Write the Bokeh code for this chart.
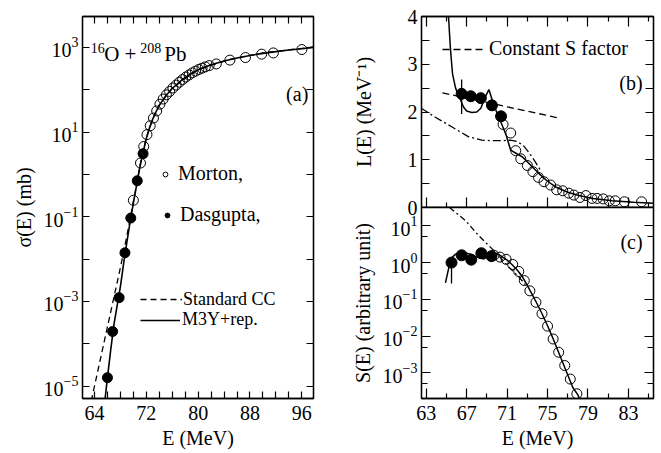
from bokeh.plotting import figure
from bokeh.layouts import row, column
from bokeh.models import (FixedTicker, LinearAxis, LogAxis, Legend, LegendItem,
                          Label, Range1d, CustomJSTickFormatter)
from bokeh.embed import file_html
from bokeh.resources import INLINE

FONT = "Liberation Serif"

# ---------------- panel (a): fusion cross section ----------------
morton_a_E = [70.0, 71.1, 71.6, 72.1, 72.6, 73.1, 73.6, 74.1, 74.6, 75.1, 75.6, 76.1,
              76.6, 77.1, 77.6, 78.1, 78.6, 79.1, 79.6, 80.1, 80.6, 81.1, 81.7, 82.8,
              84.9, 87.3, 89.8, 91.6, 96.0]
morton_a_sig = [0.245, 1.86, 4.57, 8.71, 14.1, 21.4, 31.6, 45.7, 60.3, 75.9, 91.2, 110,
                129, 151, 174, 200, 224, 251, 275, 302, 324, 347, 372, 407,
                501, 575, 692, 741, 891]
dasg_a_E = [66.0, 66.8, 67.8, 68.7, 69.6, 70.6, 71.5]
dasg_a_sig = [1.58e-5, 1.95e-4, 1.23e-3, 0.0141, 0.0933, 0.708, 3.09]
m3y_a_E = [65.6, 66.0, 66.5, 67.0, 67.5, 68.0, 68.5, 69.0, 69.5, 70.0, 70.5, 71.0, 71.5,
           72.0, 72.5, 73.0, 73.5, 74.0, 75.0, 76.0, 77.0, 78.0, 79.0, 80.0, 82.0, 84.0,
           86.0, 88.0, 90.0, 92.0, 94.0, 96.0, 97.8]
m3y_a_sig = [4.47e-6, 1.58e-5, 7.08e-5, 2.82e-4, 7.94e-4, 2.24e-3, 7.94e-3, 0.0251,
             0.0759, 0.209, 0.562, 1.48, 3.31, 7.08, 12.6, 20.4, 30.2, 42.7, 72.4, 107,
             148, 195, 245, 295, 389, 479, 562, 646, 724, 794, 871, 933, 1000]
std_a_E = [63.5, 64.0, 65.0, 66.0, 67.0, 68.0, 69.0, 70.0, 70.5, 71.0, 72.0, 73.0, 74.0,
           76.0, 80.0, 85.0, 90.0, 97.8]
std_a_sig = [4.47e-6, 1e-5, 5.01e-5, 2.51e-4, 1.26e-3, 6.31e-3, 0.0355, 0.229, 0.562,
             1.58, 7.24, 20.9, 43.7, 110, 302, 525, 741, 1023]

# ---------------- panel (b): logarithmic derivative ----------------
morton_b_E = [70.6, 71.35, 71.85, 72.35, 73.0, 73.55, 74.1, 74.65, 75.3, 75.9, 76.5,
              77.1, 77.6, 78.2, 78.8, 79.4, 79.9, 80.5, 81.1, 81.7, 82.6, 84.3]
morton_b_L = [1.74, 1.56, 1.19, 1.02, 0.88, 0.75, 0.63, 0.54, 0.47, 0.37, 0.35,
              0.30, 0.26, 0.21, 0.25, 0.19, 0.19, 0.18, 0.14, 0.14, 0.12, 0.12]
dasg_b_E = [66.5, 67.4, 68.4, 69.5, 70.4]
dasg_b_L = [2.38, 2.33, 2.29, 2.14, 1.91]
dasg_b_err_lo = [1.96]
dasg_b_err_hi = [2.68]
m3y_b_E = [65.2, 65.4, 65.6, 65.9, 66.3, 66.7, 67.0, 67.5, 68.0, 68.4, 68.8, 69.2, 69.6,
           70.0, 70.4, 70.9, 71.35, 72.0, 72.5, 72.8, 73.5, 74.2, 75.0, 75.8, 77.0, 78.1,
           79.5, 81.4, 83.5, 85.5]
m3y_b_L = [4.0, 3.3, 2.8, 2.5, 2.3, 2.1, 2.02, 1.99, 2.0, 2.08, 2.3, 2.47, 2.2,
           1.98, 1.78, 1.52, 1.2, 1.12, 1.06, 1.0, 0.85, 0.70, 0.55, 0.43, 0.32, 0.25,
           0.19, 0.14, 0.11, 0.09]
std_b_E = [62.5, 63.9, 65.6, 67.2, 68.5, 69.5, 70.5, 71.3, 72.0, 72.6, 73.2, 73.8, 74.3]
std_b_L = [2.08, 1.89, 1.68, 1.48, 1.41, 1.40, 1.40, 1.41, 1.38, 1.30, 1.14, 0.95, 0.78]
constS_E = [64.6, 76.0]
constS_L = [2.40, 1.88]

# ---------------- panel (c): astrophysical S factor ----------------
morton_c_E = [69.7, 70.3, 70.9, 71.55, 72.15, 72.7, 73.25, 73.85, 74.45, 75.0, 75.55,
              76.1, 76.7, 77.25, 77.9]
morton_c_S = [1.58, 1.41, 1.23, 0.891, 0.575, 0.324, 0.170, 0.0832, 0.0407, 0.0186,
              0.00832, 0.00363, 0.00158, 6.76e-4, 2.69e-4]
dasg_c_E = [65.5, 66.5, 67.45, 68.45, 69.45]
dasg_c_S = [1.0, 1.58, 1.2, 1.8, 1.5]
dasg_c_err_lo = [0.27]
dasg_c_err_hi = [1.1]
m3y_c_E = [64.9, 65.2, 65.4, 65.9, 66.6, 67.4, 68.0, 68.7, 69.2, 69.8, 70.3, 71.0, 71.5,
           72.0, 72.5, 73.0, 73.5, 74.0, 74.5, 75.0, 75.5, 76.0, 76.5, 77.0, 77.5, 78.0,
           78.3]
m3y_c_S = [0.282, 0.661, 1.26, 1.70, 1.91, 1.70, 1.41, 1.26, 1.55, 1.78, 1.58, 1.17,
           0.871, 0.631, 0.417, 0.240, 0.132, 0.0724, 0.0380, 0.0191, 0.00912, 0.00417,
           0.00191, 8.71e-4, 3.98e-4, 2.51e-4, 1.51e-4]
std_c_E = [65.3, 66.9, 68.2, 69.9, 71.2, 72.2, 72.8]
std_c_S = [31.6, 13.8, 5.37, 1.86, 0.741, 0.398, 0.25]

# tick positions
a_xticks = [64, 72, 80, 88, 96]
a_xminor = [66, 68, 70, 74, 76, 78, 82, 84, 86, 90, 92, 94]
a_yticks = [1e-5, 1e-3, 1e-1, 1e1, 1e3]
a_yminor = [1e-4, 1e-2, 1e0, 1e2]
r_xticks = [63, 67, 71, 75, 79, 83]
r_xminor = [65, 69, 73, 77, 81, 85]
b_yticks = [0, 1, 2, 3, 4]
b_yminor = [0.5, 1.5, 2.5, 3.5]
c_yticks = [1e-3, 1e-2, 1e-1, 1e0, 1e1]
c_yminor = [5e-4, 5e-3, 5e-2, 0.5, 5]

TICK_FS = "20px"
LBL_FS = "20px"


def style_axis(ax, major_in, minor_in, labels=True):
    ax.major_tick_in = major_in
    ax.major_tick_out = 0
    ax.minor_tick_in = minor_in
    ax.minor_tick_out = 0
    ax.axis_line_color = "black"
    ax.axis_line_width = 1.3
    ax.major_tick_line_color = "black"
    ax.minor_tick_line_color = "black"
    ax.major_tick_line_width = 1.2
    ax.minor_tick_line_width = 1.2
    ax.major_label_text_font = FONT
    ax.major_label_text_color = "black"
    ax.major_label_text_font_size = TICK_FS
    ax.axis_label_text_font = FONT
    ax.axis_label_text_font_size = LBL_FS
    ax.axis_label_text_font_style = "normal"
    ax.axis_label_text_color = "black"
    if labels:
        ax.major_label_standoff = 4
    else:
        ax.formatter = CustomJSTickFormatter(code="return '';")
        ax.major_label_standoff = 0
        ax.axis_label = None


def base_fig(**kw):
    p = figure(output_backend="svg", toolbar_location=None, **kw)
    p.xgrid.visible = False
    p.ygrid.visible = False
    p.outline_line_color = "black"
    p.outline_line_width = 1.3
    p.background_fill_color = "white"
    p.border_fill_color = "white"
    return p


def legend(p, renderer, label, x, y, gw, standoff, size=LBL_FS):
    lg = Legend(items=[LegendItem(label=label, renderers=[renderer])], location=(x, y),
                padding=1, margin=1, border_line_alpha=0,
                background_fill_alpha=0, glyph_width=gw, glyph_height=20,
                label_height=20, label_standoff=standoff,
                label_text_font=FONT, label_text_font_size=size,
                label_text_color="black")
    p.add_layout(lg)


def text(p, x, y, s, size=LBL_FS, align="left"):
    p.add_layout(Label(x=x, y=y, text=s, text_font=FONT, text_font_size=size,
                       text_color="black", text_align=align,
                       text_baseline="alphabetic"))


# ======== panel a ========
pa = base_fig(frame_width=231, frame_height=382,
              x_range=Range1d(62.15, 97.8), y_range=Range1d(5.1e-6, 5370),
              y_axis_type="log",
              min_border_left=82, min_border_right=35, min_border_top=16,
              min_border_bottom=55)
xt_a = FixedTicker(ticks=a_xticks, minor_ticks=a_xminor)
yt_a = FixedTicker(ticks=a_yticks, minor_ticks=a_yminor)
pa.xaxis.ticker = xt_a
pa.yaxis.ticker = yt_a
pa.xaxis.axis_label = "E (MeV)"
pa.yaxis.axis_label = "σ(E) (mb)"
style_axis(pa.xaxis[0], 7, 7)
style_axis(pa.yaxis[0], 7, 7)
pa.xaxis.major_label_standoff = 7
pa.xaxis.axis_label_standoff = 4
pa.yaxis.axis_label_standoff = 6
ax_top = LinearAxis(ticker=xt_a)
style_axis(ax_top, 7, 7, labels=False)
pa.add_layout(ax_top, "above")
ax_right = LogAxis(ticker=yt_a)
style_axis(ax_right, 7, 7, labels=False)
pa.add_layout(ax_right, "right")

r_std_a = pa.line(std_a_E, std_a_sig, line_color="black", line_width=1.3, line_dash="6 4")
r_m3y_a = pa.line(m3y_a_E, m3y_a_sig, line_color="black", line_width=1.6)
r_mor_a = pa.scatter(morton_a_E, morton_a_sig, marker="circle", size=10,
                     fill_color=None, line_color="black", line_width=1)
r_das_a = pa.scatter(dasg_a_E, dasg_a_sig, marker="circle", size=10,
                     fill_color="black", line_color="black")

legend(pa, r_mor_a, "Morton,", 76, 212, 12, 7)
legend(pa, r_das_a, "Dasgupta,", 78, 171, 12, 7)
legend(pa, r_std_a, "Standard CC", 57, 87.5, 42, 1, size="18px")
legend(pa, r_m3y_a, "M3Y+rep.", 57, 67, 40, 2, size="18px")

# title  16O + 208Pb  (superscripted mass numbers)
text(pa, 63.41, 977, "16", size="14px")
text(pa, 65.5, 708, "O +", size="21px")
text(pa, 71.05, 977, "208", size="14px")
text(pa, 74.77, 708, "Pb", size="21px")
text(pa, 97.0, 80, "(a)", align="right")

# ======== panel b ========
x_range_r = Range1d(62.53, 85.48)
pb = base_fig(frame_width=232, frame_height=191,
              x_range=x_range_r, y_range=Range1d(0, 4),
              min_border_left=73, min_border_right=5, min_border_top=16,
              min_border_bottom=14)
xt_r = FixedTicker(ticks=r_xticks, minor_ticks=r_xminor)
yt_b = FixedTicker(ticks=b_yticks, minor_ticks=b_yminor)
pb.xaxis.ticker = xt_r
pb.yaxis.ticker = yt_b
pb.yaxis.axis_label = "L(E) (MeV⁻¹)"
style_axis(pb.xaxis[0], 10, 5, labels=False)
style_axis(pb.yaxis[0], 8, 8)
pb.yaxis.axis_label_standoff = 30
ax_top_b = LinearAxis(ticker=xt_r)
style_axis(ax_top_b, 10, 5, labels=False)
pb.add_layout(ax_top_b, "above")
ax_right_b = LinearAxis(ticker=yt_b)
style_axis(ax_right_b, 8, 8, labels=False)
pb.add_layout(ax_right_b, "right")

pb.line(std_b_E, std_b_L, line_color="black", line_width=1.3, line_dash="8 3 2 3")
r_cs = pb.line(constS_E, constS_L, line_color="black", line_width=1.3, line_dash="7 4")
pb.line(m3y_b_E, m3y_b_L, line_color="black", line_width=1.5)
pb.scatter(morton_b_E, morton_b_L, marker="circle", size=10, fill_color=None,
           line_color="black", line_width=1)
pb.segment(dasg_b_E[:1], dasg_b_err_lo, dasg_b_E[:1], dasg_b_err_hi,
           line_color="black", line_width=1.3)
pb.scatter(dasg_b_E, dasg_b_L, marker="circle", size=11, fill_color="black",
           line_color="black")
legend(pb, r_cs, "Constant S factor", 20, 146, 43, 4)
text(pb, 84.4, 2.6, "(b)", align="right")

# ======== panel c ========
pc = base_fig(frame_width=232, frame_height=191,
              x_range=x_range_r, y_range=Range1d(2.0e-4, 31.6), y_axis_type="log",
              min_border_left=73, min_border_right=5, min_border_top=14,
              min_border_bottom=55)
pc.border_fill_alpha = 0
pc.styles = {"margin-top": "-28px"}
yt_c = FixedTicker(ticks=c_yticks, minor_ticks=c_yminor)
pc.xaxis.ticker = xt_r
pc.yaxis.ticker = yt_c
pc.xaxis.axis_label = "E (MeV)"
pc.yaxis.axis_label = "S(E) (arbitrary unit)"
style_axis(pc.xaxis[0], 10, 5)
style_axis(pc.yaxis[0], 9, 6)
pc.xaxis.major_label_standoff = 7
pc.xaxis.axis_label_standoff = 4
pc.yaxis.axis_label_standoff = 6
ax_right_c = LogAxis(ticker=yt_c)
style_axis(ax_right_c, 9, 6, labels=False)
pc.add_layout(ax_right_c, "right")

pc.line(std_c_E, std_c_S, line_color="black", line_width=1.3, line_dash="6 3 2 3")
pc.line(m3y_c_E, m3y_c_S, line_color="black", line_width=1.5)
pc.scatter(morton_c_E, morton_c_S, marker="circle", size=10, fill_color=None,
           line_color="black", line_width=1)
pc.segment(dasg_c_E[:1], dasg_c_err_lo, dasg_c_E[:1], dasg_c_err_hi,
           line_color="black", line_width=1.3)
pc.scatter(dasg_c_E, dasg_c_S, marker="circle", size=11, fill_color="black",
           line_color="black")
text(pc, 84.4, 3.7, "(c)", align="right")

layout = row(pa, column(pb, pc, spacing=0), spacing=0)

with open("out.html", "w") as f:
    f.write(file_html(layout, INLINE))
